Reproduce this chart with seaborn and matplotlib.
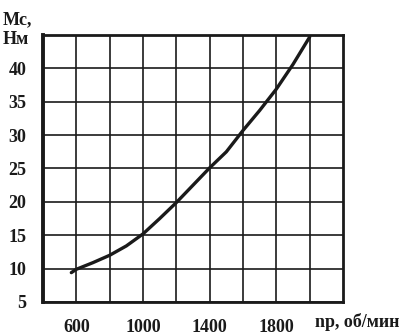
import matplotlib
matplotlib.use("Agg")
import matplotlib.pyplot as plt
import seaborn as sns
import pandas as pd

# data
speed = [570, 600, 700, 800, 900, 1000, 1100, 1200, 1300, 1400, 1500, 1600, 1700, 1800, 1900, 2000]
torque = [9.4, 9.9, 10.9, 12.0, 13.4, 15.2, 17.5, 19.9, 22.5, 25.1, 27.5, 30.7, 33.7, 36.9, 40.6, 44.7]
x_ticks = [600, 800, 1000, 1200, 1400, 1600, 1800, 2000]
x_labels = ["600", "", "1000", "", "1400", "", "1800", ""]
y_ticks = [5, 10, 15, 20, 25, 30, 35, 40]
y_labels = ["5", "10", "15", "20", "25", "30", "35", "40"]

df = pd.DataFrame({"n": speed, "M": torque})

sns.set_style("white")
plt.rcParams["font.family"] = ["Liberation Serif", "DejaVu Serif"]
plt.rcParams["font.weight"] = "bold"

W, H = 405, 335
fig = plt.figure(figsize=(W / 100, H / 100), dpi=100)
L, R, T, B = 43, 343, 35, 302
ax = fig.add_axes([L / W, 1 - B / H, (R - L) / W, (B - T) / H])

sns.lineplot(data=df, x="n", y="M", ax=ax, sort=False, color="#1a1a1a", lw=2.4)

ax.set_xlim(400, 2200)
ax.set_ylim(5, 45)
ax.set_xticks(x_ticks)
ax.set_xticklabels(x_labels)
ax.set_yticks(y_ticks)
ax.set_yticklabels(y_labels)
ax.grid(True, color="#1a1a1a", lw=1.2)
ax.set_axisbelow(True)
ax.tick_params(axis="both", direction="out", length=5, width=1.2, color="#1a1a1a",
               labelsize=13, labelcolor="#1a1a1a", pad=7)
ax.set_xlabel("")
ax.set_ylabel("")
for side in ["top", "right", "bottom"]:
    ax.spines[side].set_color("#1a1a1a")
    ax.spines[side].set_linewidth(2.0)
ax.spines["left"].set_color("#1a1a1a")
ax.spines["left"].set_linewidth(2.8)

fig.text(3 / W, 1 - 20 / H, "Мс,", fontsize=13, fontweight="bold", color="#1a1a1a", va="center", ha="left")
fig.text(3 / W, 1 - 40 / H, "Нм", fontsize=13, fontweight="bold", color="#1a1a1a", va="center", ha="left")
fig.text(399 / W, 1 - 322 / H, "nр, об/мин", fontsize=13, fontweight="bold", color="#1a1a1a", va="center", ha="right")

fig.savefig("out.png", dpi=100)
